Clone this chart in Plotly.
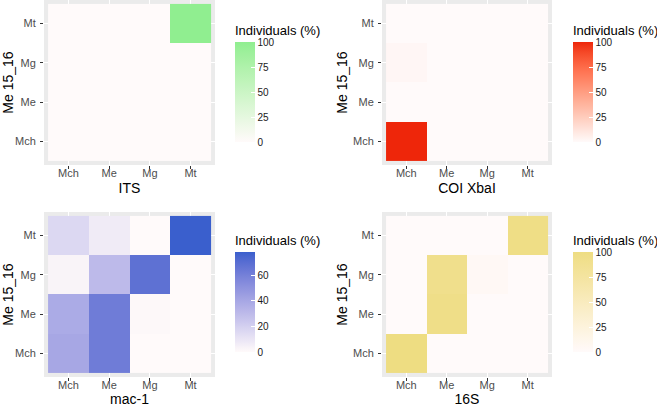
import plotly.graph_objects as go
import numpy as np

# ---- data ----
categories = ["Mch", "Me", "Mg", "Mt"]          # x and y categories
y_title = "Me 15_16"
panel_titles = ["ITS", "COI XbaI", "mac-1", "16S"]

# rows = y category (Mch, Me, Mg, Mt), columns = x category (Mch, Me, Mg, Mt)
its_values = [
    [0, 0, 0, 0],
    [0, 0, 0, 0],
    [0, 0, 0, 0],
    [0, 0, 0, 100],
]
coi_values = [
    [100, 0, 0, 0],
    [0, 0, 0, 0],
    [2, 0, 0, 0],
    [0, 0, 0, 0],
]
mac1_values = [
    [40, 62, 0, 0],
    [38, 62, 1, 0],
    [3, 30, 68, 0],
    [16, 7, 0, 78],
]
s16_values = [
    [100, 0, 0, 0],
    [0, 95, 0, 0],
    [0, 92, 4, 0],
    [0, 0, 0, 97],
]
its_ticks = [0, 25, 50, 75, 100]
coi_ticks = [0, 25, 50, 75, 100]
mac1_ticks = [0, 20, 40, 60]
s16_ticks = [0, 25, 50, 75, 100]

# ---- colour helpers (Lab interpolation like ggplot's gradient) ----
def _srgb_to_lin(c):
    c = c / 255.0
    return np.where(c <= 0.04045, c / 12.92, ((c + 0.055) / 1.055) ** 2.4)

def _lin_to_srgb(c):
    c = np.clip(c, 0, 1)
    v = np.where(c <= 0.0031308, 12.92 * c, 1.055 * c ** (1 / 2.4) - 0.055)
    return np.clip(np.round(v * 255), 0, 255)

M = np.array([[0.4124, 0.3576, 0.1805], [0.2126, 0.7152, 0.0722], [0.0193, 0.1192, 0.9505]])
Minv = np.linalg.inv(M)
WP = np.array([0.95047, 1.0, 1.08883])

def _f(t):
    d = 6 / 29
    return np.where(t > d ** 3, np.cbrt(t), t / (3 * d * d) + 4 / 29)

def _finv(t):
    d = 6 / 29
    return np.where(t > d, t ** 3, 3 * d * d * (t - 4 / 29))

def rgb_to_lab(rgb):
    xyz = M @ _srgb_to_lin(np.array(rgb, float)) / WP
    fx, fy, fz = _f(xyz)
    return np.array([116 * fy - 16, 500 * (fx - fy), 200 * (fy - fz)])

def lab_to_rgb(lab):
    L, a, b = lab
    fy = (L + 16) / 116
    fx = fy + a / 500
    fz = fy - b / 200
    xyz = _finv(np.array([fx, fy, fz])) * WP
    return _lin_to_srgb(Minv @ xyz)

def lab_scale(low, high, n=21):
    l1, l2 = rgb_to_lab(low), rgb_to_lab(high)
    out = []
    for i in range(n):
        t = i / (n - 1)
        r, g, b = lab_to_rgb(l1 + (l2 - l1) * t)
        out.append([t, f"rgb({int(r)},{int(g)},{int(b)})"])
    return out

low = (255, 250, 250)
scales = [
    lab_scale(low, (144, 238, 144)),
    lab_scale(low, (238, 38, 10)),
    lab_scale(low, (58, 95, 205)),
    lab_scale(low, (238, 221, 130)),
]

W, H = 657, 407
xdoms = [[44 / W, 215 / W], [382 / W, 552 / W]]
ydoms = [[1 - 165 / H, 1.0], [1 - 377 / H, 1 - 212 / H]]
cb_x = [235 / W, 573 / W]
cb_top = [1 - 22 / H, 1 - 232 / H]

datasets = [its_values, coi_values, mac1_values, s16_values]
tickset = [its_ticks, coi_ticks, mac1_ticks, s16_ticks]

fig = go.Figure()
layout = dict(
    width=W, height=H,
    margin=dict(l=0, r=0, t=0, b=0, autoexpand=False),
    paper_bgcolor="white",
    plot_bgcolor="#EBEBEB",
    font=dict(family="Liberation Sans, Arial, sans-serif"),
    showlegend=False,
)

for i in range(4):
    row, col = divmod(i, 2)
    n = i + 1
    xa = "x" if n == 1 else f"x{n}"
    ya = "y" if n == 1 else f"y{n}"
    fig.add_trace(go.Heatmap(
        x=categories, y=categories, z=datasets[i],
        xaxis=xa, yaxis=ya,
        colorscale=scales[i],
        zmin=0, zmax=float(np.max(datasets[i])),
        xgap=0, ygap=0,
        hoverongaps=False,
        colorbar=dict(
            title=dict(text="Individuals (%)", side="top",
                       font=dict(size=13, color="#000000")),
            x=cb_x[col], xanchor="left", xpad=0,
            y=cb_top[row], yanchor="top", ypad=0,
            len=120, lenmode="pixels",
            thickness=20, thicknessmode="pixels",
            outlinewidth=0,
            tickvals=tickset[i],
            ticks="inside", ticklen=4, tickcolor="white", tickwidth=1,
            tickfont=dict(size=10, color="#1A1A1A"),
        ),
    ))
    axkw = dict(
        type="category", categoryorder="array", categoryarray=categories,
        range=[-0.6, 3.6], automargin=False,
        showgrid=True, gridcolor="white", gridwidth=1.1,
        zeroline=False, showline=False,
        ticks="outside", ticklen=3, tickcolor="#333333", tickwidth=1,
        tickfont=dict(size=11, color="#4D4D4D"),
    )
    xkey = "xaxis" if n == 1 else f"xaxis{n}"
    ykey = "yaxis" if n == 1 else f"yaxis{n}"
    layout[xkey] = dict(axkw, domain=xdoms[col], anchor=ya,
                        ticklabelstandoff=-5,
                        title=dict(text=panel_titles[i], standoff=4,
                                   font=dict(size=14, color="#000000")))
    layout[ykey] = dict(axkw, domain=ydoms[row], anchor=xa,
                        ticklabelstandoff=2,
                        title=dict(text=y_title, standoff=2,
                                   font=dict(size=14, color="#000000")))

fig.update_layout(**layout)
fig.write_html(
    "out.html",
    config={"displayModeBar": False},
    post_script="document.body.style.margin='0';document.body.style.overflow='hidden';",
)
